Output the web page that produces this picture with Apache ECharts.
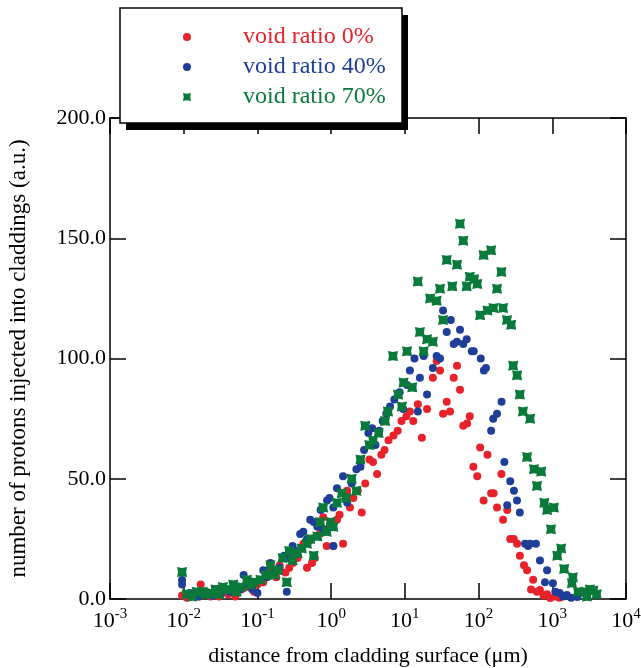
<!DOCTYPE html>
<html>
<head>
<meta charset="utf-8">
<script src="https://cdn.jsdelivr.net/npm/echarts@6/dist/echarts.min.js"></script>
<style>
  html, body { margin: 0; padding: 0; background: #fff; }
  #chart { width: 641px; height: 668px; }
</style>
</head>
<body>
<div id="chart"></div>
<script>
// distance (um), protons (a.u.)
var voidRatio0 = [
  [0.0095, 1.5], [0.011, 0.5], [0.013, 2], [0.016, 1], [0.017, 6], [0.02, 3], [0.023, 1], [0.026, 2.5],
  [0.03, 1], [0.034, 4], [0.04, 2], [0.045, 3], [0.05, 1], [0.06, 4], [0.07, 5], [0.08, 5], [0.09, 3],
  [0.1, 6], [0.12, 7], [0.13, 10], [0.15, 12], [0.18, 9], [0.2, 14], [0.24, 11], [0.27, 13], [0.3, 15],
  [0.35, 17], [0.42, 23], [0.47, 13], [0.5, 24], [0.55, 15], [0.6, 17], [0.7, 27], [0.78, 34], [0.87, 22],
  [0.95, 30], [1.07, 22], [1.2, 33], [1.3, 35], [1.45, 23], [1.65, 45], [1.8, 38], [2.0, 42], [2.3, 45],
  [2.6, 36], [2.9, 48], [3.3, 58], [3.7, 57], [4.2, 52], [4.8, 60], [5.3, 62], [6.0, 66], [7.0, 68],
  [8.0, 70], [9.0, 74], [10.5, 76], [11.7, 78], [13, 74], [15, 81], [17, 67], [20, 79], [24, 92], [27, 99],
  [30, 95], [33, 77], [37, 82], [41, 78], [46, 92], [51, 97], [56, 87], [62, 72], [70, 73], [76, 76],
  [85, 55], [96, 51], [105, 63], [117, 41], [132, 60], [148, 44], [160, 44], [178, 38], [204, 52],
  [215, 33], [245, 37], [269, 25], [300, 25], [333, 23], [363, 18], [413, 14], [455, 12], [515, 4],
  [550, 8], [620, 3], [680, 3.7], [760, 1.5], [850, 2], [940, 0.4], [1100, 1], [1250, 0.5]
];
var voidRatio40 = [
  [0.0095, 7.9], [0.0095, 6], [0.012, 2.5], [0.014, 1], [0.016, 1], [0.019, 3], [0.021, 2.5], [0.024, 1.5],
  [0.028, 4], [0.032, 2], [0.036, 4], [0.042, 3], [0.05, 5], [0.058, 4], [0.065, 10], [0.075, 6],
  [0.085, 4], [0.1, 2.5], [0.11, 8], [0.12, 12], [0.135, 9], [0.15, 15], [0.17, 11], [0.2, 13],
  [0.23, 18], [0.25, 3], [0.27, 17], [0.3, 22], [0.34, 20], [0.38, 27], [0.42, 28], [0.47, 25],
  [0.52, 33], [0.58, 32], [0.65, 30], [0.72, 37], [0.78, 29], [0.88, 41], [0.95, 42], [1.07, 38],
  [1.07, 22], [1.2, 46], [1.45, 51], [1.65, 40], [1.9, 48], [2.2, 54], [2.5, 55], [2.8, 62], [3.2, 69],
  [3.6, 71], [4.0, 64], [4.5, 70], [5.0, 74], [5.6, 77], [6.3, 80], [7.2, 83], [8.5, 86], [9.5, 79],
  [10.7, 89], [11.7, 95], [13.5, 100], [15, 78], [16, 92], [18, 101], [20, 85], [24, 96], [27, 101],
  [30, 100], [33, 120], [37, 111], [42, 116], [46, 106], [51, 107], [56, 112], [62, 106], [69, 108],
  [81, 103], [86, 103], [107, 100], [118, 95], [126, 96], [148, 70], [158, 75], [178, 77], [205, 82],
  [224, 57], [245, 39], [269, 49], [302, 45], [332, 41], [363, 36], [427, 23], [470, 22], [500, 23],
  [600, 23], [680, 16], [795, 7], [850, 12], [1020, 6.6], [1100, 3], [1260, 2.5], [1400, 1], [1580, 1.7],
  [1800, 0.5], [2190, 0.8]
];
var voidRatio70 = [
  [0.0095, 11.2], [0.011, 2], [0.013, 1], [0.015, 3], [0.018, 3], [0.02, 2], [0.023, 2.5], [0.027, 4],
  [0.03, 2], [0.034, 5], [0.04, 4], [0.047, 6], [0.052, 3], [0.06, 5], [0.072, 8], [0.08, 6], [0.09, 7],
  [0.11, 8], [0.13, 10], [0.15, 14], [0.17, 10], [0.19, 12], [0.22, 17], [0.25, 7], [0.27, 20], [0.3, 16],
  [0.35, 19], [0.4, 21], [0.47, 23], [0.52, 25], [0.58, 18], [0.65, 26], [0.71, 32], [0.78, 38],
  [0.87, 28], [0.98, 32], [1.07, 30], [1.2, 40], [1.4, 44], [1.6, 42], [1.9, 50], [2.2, 45], [2.5, 58],
  [2.9, 72], [3.3, 64], [3.7, 66], [4.4, 69], [5.4, 74], [5.9, 78], [6.9, 101], [8.1, 85], [9.1, 80],
  [9.6, 90], [10.7, 103], [12.6, 88], [15, 132], [16, 111], [18, 103], [20, 108], [22, 125], [24, 107],
  [27, 124], [30, 129], [33, 116], [37, 141], [44, 130], [51, 139], [56, 156], [62, 149], [69, 130],
  [76, 134], [87, 133], [96, 131], [105, 118], [117, 143], [132, 120], [148, 145], [159, 121], [178, 129],
  [204, 136], [215, 121], [243, 116], [277, 114], [295, 97], [333, 93], [363, 85], [400, 78], [455, 59],
  [500, 75], [565, 54], [620, 47], [708, 53], [780, 40], [850, 37], [960, 29], [1050, 38], [1170, 18],
  [1320, 21], [1450, 12.5], [1850, 6.6], [1900, 9], [2240, 3], [2800, 3], [2950, 1], [3240, 4],
  [3600, 3.5], [4000, 2]
];
var seriesNames = ['void ratio 0%', 'void ratio 40%', 'void ratio 70%'];
var seriesColors = ['#e8222b', '#1f3e98', '#0a7a3b'];

var font = 'Liberation Serif, Times New Roman, serif';
var starSquare = 'path://M0,0 L5,0.9 L10,0 L9.1,5 L10,10 L5,9.1 L0,10 L0.9,5 Z';

var myChart = echarts.init(document.getElementById('chart'));

function expLabel(v) {
  var e = Math.round(Math.log(v) / Math.LN10);
  return '{b|10}{s|' + e + '}';
}

var tick = { show: true, inside: true, length: 16, lineStyle: { color: '#000', width: 1.5 } };
var line = { show: true, onZero: false, lineStyle: { color: '#000', width: 1.5 } };

var option = {
  animation: false,
  backgroundColor: '#fff',
  textStyle: { fontFamily: font },
  grid: { left: 110, right: 15, top: 118, bottom: 69, outerBoundsMode: 'none', containLabel: false },
  xAxis: [
    {
      type: 'log', logBase: 10, min: 0.001, max: 10000,
      axisLine: line, axisTick: tick, splitLine: { show: false }, minorTick: { show: false },
      axisLabel: {
        margin: 8, formatter: expLabel, color: '#000',
        rich: {
          b: { fontSize: 22, fontFamily: font, color: '#000', lineHeight: 28 },
          s: { fontSize: 15, fontFamily: font, color: '#000', verticalAlign: 'top' }
        }
      },
      name: 'distance from cladding surface (\u03bcm)', nameLocation: 'middle', nameGap: 46,
      nameTextStyle: { fontSize: 22, fontFamily: font, color: '#000' }
    },
    {
      type: 'log', logBase: 10, min: 0.001, max: 10000, position: 'top',
      axisLine: line, axisTick: tick, axisLabel: { show: false }, splitLine: { show: false }
    }
  ],
  yAxis: [
    {
      type: 'value', min: 0, max: 200, interval: 50,
      axisLine: line, axisTick: tick, splitLine: { show: false },
      axisLabel: {
        margin: 4, color: '#000', fontSize: 22, fontFamily: font,
        formatter: function (v) { return v.toFixed(1); }
      },
      name: 'number of protons injected into claddings (a.u.)', nameLocation: 'middle', nameGap: 80,
      nameTextStyle: { fontSize: 23, fontFamily: font, color: '#000' }
    },
    {
      type: 'value', min: 0, max: 200, interval: 50, position: 'right',
      axisLine: line, axisTick: tick, axisLabel: { show: false }, splitLine: { show: false }
    }
  ],
  graphic: [
    { type: 'rect', z: 100, shape: { x: 126, y: 15, width: 282, height: 115 }, style: { fill: '#000' } },
    { type: 'rect', z: 101, shape: { x: 120, y: 8, width: 282, height: 115 },
      style: { fill: '#fff', stroke: '#000', lineWidth: 1.5 } }
  ],
  legend: {
    z: 102, orient: 'vertical', left: 183, top: 22, itemGap: 0, itemWidth: 8, itemHeight: 8,
    padding: 0,
    data: [
      { name: seriesNames[0], icon: 'circle', textStyle: { color: seriesColors[0] } },
      { name: seriesNames[1], icon: 'circle', textStyle: { color: seriesColors[1] } },
      { name: seriesNames[2], icon: starSquare, textStyle: { color: seriesColors[2] } }
    ],
    textStyle: { fontSize: 24, fontFamily: font, lineHeight: 30, padding: [0, 0, 0, 47] }
  },
  series: [
    { name: seriesNames[0], type: 'scatter', data: voidRatio0, symbol: 'circle', symbolSize: 8,
      itemStyle: { color: seriesColors[0], opacity: 1 } },
    { name: seriesNames[1], type: 'scatter', data: voidRatio40, symbol: 'circle', symbolSize: 8,
      itemStyle: { color: seriesColors[1], opacity: 1 } },
    { name: seriesNames[2], type: 'scatter', data: voidRatio70, symbol: starSquare, symbolSize: 10,
      itemStyle: { color: seriesColors[2], opacity: 1 } }
  ]
};
myChart.setOption(option);

window.addEventListener('resize', function () {
  myChart.resize();
});
</script>
</body>
</html>
